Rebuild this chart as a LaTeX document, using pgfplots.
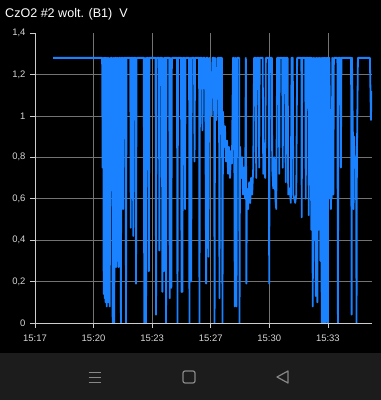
\documentclass[border=0pt]{standalone}
\usepackage{pgfplots}
\pgfplotsset{compat=1.18}
\usepackage{fontspec}
\setmainfont{Liberation Sans}
\definecolor{lineblue}{RGB}{26,130,255}
\definecolor{gridgray}{RGB}{115,115,115}
\definecolor{axisgray}{RGB}{205,205,205}
\definecolor{labelgray}{RGB}{215,215,215}
\definecolor{navbar}{RGB}{28,28,28}
\definecolor{icongray}{RGB}{135,135,135}
\begin{document}
\begin{tikzpicture}
\fill[black] (0bp,0bp) rectangle (381bp,400bp);
\fill[navbar] (0bp,0bp) rectangle (381bp,47bp);
\node[anchor=base west, text=white, font=\fontsize{12.6}{14}\selectfont, inner sep=0pt] at (5bp,382bp) {CzO2 \#2 wolt. (B1)\ \ V};
% navigation icons
\begin{scope}[draw=icongray, line width=1.2bp]
\draw (88.5bp,27.3bp) -- (101bp,27.3bp);
\draw (88.5bp,22.7bp) -- (101bp,22.7bp);
\draw (88.5bp,17.3bp) -- (101bp,17.3bp);
\draw[rounded corners=2bp] (183bp,17bp) rectangle (195bp,29bp);
\draw[line join=round] (288bp,29bp) -- (277bp,23bp) -- (288bp,17bp) -- cycle;
\end{scope}
\begin{axis}[
  at={(35bp,77bp)}, anchor=south west,
  scale only axis, width=337bp, height=290bp,
  xmin=0, xmax=19.18, ymin=0, ymax=1.4,
  axis x line*=bottom, axis y line*=left,
  axis line style={axisgray, line width=0.8bp},
  xtick={0,3.33333,6.66667,10,13.33333,16.66667},
  xticklabels={15:17,15:20,15:23,15:27,15:30,15:33},
  ytick={0,0.2,0.4,0.6,0.8,1,1.2},
  extra y ticks={1.4},
  extra y tick style={grid=none},
  /pgf/number format/use comma,
  /pgf/number format/assume math mode=true,
  grid=major,
  major grid style={gridgray, line width=0.6bp},
  tick align=outside,
  major tick length=5bp,
  tick style={axisgray, line width=0.6bp},
  ticklabel style={font=\fontsize{9.5}{11}\selectfont, text=labelgray},
  xticklabel style={yshift=-3.5bp},
  yticklabel style={xshift=-1bp},
]
\addplot[lineblue, line width=1.8bp, line join=round, mark=none] coordinates {
(1.03,1.28)(3.82,1.28)(3.85,0.75)(3.88,1.28)(3.91,0.14)(3.94,1.28)(3.97,0.12)(4.00,1.28)(4.02,0.10)(4.05,1.28)(4.08,0.08)(4.11,1.28)(4.17,0.10)(4.20,1.28)(4.25,0.08)(4.31,1.28)(4.39,1.28)(4.42,0.00)(4.48,1.28)(4.51,0.00)(4.55,1.28)(4.59,1.28)(4.62,0.27)(4.65,1.28)(4.68,0.30)(4.71,1.28)(4.76,0.27)(4.79,1.28)
(4.86,1.28)(4.89,0.00)(4.92,1.28)(4.99,1.28)(5.02,0.55)(5.05,1.28)(5.15,1.28)(5.18,0.00)(5.21,1.28)(5.42,1.28)(5.45,0.46)(5.48,1.28)(5.57,1.28)(5.59,0.42)(5.62,1.28)(5.72,1.28)(5.75,0.19)(5.78,1.28)(6.19,1.28)(6.22,0.00)(6.27,1.28)(6.32,0.00)(6.35,1.28)(6.45,1.28)(6.48,0.25)(6.51,1.28)(6.86,1.28)(6.89,0.04)(6.92,1.28)(7.05,1.28)(7.08,0.35)(7.11,1.28)(7.22,1.28)(7.25,0.15)(7.28,1.28)(7.34,0.25)(7.36,1.28)(7.43,1.28)(7.46,0.00)(7.48,1.28)(7.64,1.28)(7.67,0.12)(7.69,1.28)(7.76,0.17)(7.79,1.28)
(8.08,1.28)(8.11,0.00)(8.14,1.28)(8.31,1.28)(8.34,0.15)(8.36,1.28)(8.39,0.15)(8.42,1.28)(8.51,1.28)(8.54,0.55)(8.57,1.28)(8.77,1.28)(8.79,0.00)(8.84,1.28)(8.89,0.20)(8.92,1.28)(9.05,1.28)(9.08,0.78)(9.11,1.28)(9.34,1.28)(9.36,0.00)(9.39,1.28)(9.50,1.28)(9.53,0.93)(9.57,1.28)(9.67,1.28)(9.70,0.95)(9.74,0.19)(9.76,1.28)(9.84,1.28)(9.87,0.32)(9.90,1.00)(9.94,1.28)(10.05,1.00)(10.10,1.28)(10.19,1.28)(10.22,0.00)(10.25,1.28)(10.33,0.98)(10.39,1.28)(10.47,1.28)(10.50,0.12)(10.53,1.28)(10.64,1.28)(10.67,0.00)(10.70,1.02)(10.76,0.85)(10.81,0.95)(10.87,0.78)(10.93,0.88)(10.99,0.72)(11.04,0.85)(11.10,0.70)(11.16,0.83)(11.21,0.77)(11.27,1.28)(11.33,1.28)(11.37,0.08)(11.42,1.28)(11.47,0.08)(11.50,1.28)(11.62,1.28)(11.64,0.00)(11.67,0.85)
(11.73,0.70)(11.79,0.80)(11.84,0.62)(11.90,0.75)(11.96,0.60)(12.00,1.28)(12.03,0.19)(12.06,0.65)(12.13,0.55)(12.19,0.68)(12.25,0.58)(12.30,0.70)(12.36,0.62)(12.42,0.75)(12.47,1.28)(12.56,1.28)(12.59,0.70)(12.62,1.28)(12.73,1.28)(12.76,0.75)(12.79,1.28)(12.96,1.28)(12.99,0.72)(13.04,0.78)(13.10,0.70)(13.14,1.28)(13.30,1.28)(13.33,0.19)(13.36,1.28)(13.48,1.28)(13.50,0.75)(13.56,0.65)(13.62,0.80)(13.68,0.60)(13.73,0.55)(13.78,1.28)(13.88,1.28)(13.90,0.72)(13.93,1.28)(14.07,1.28)(14.10,0.75)(14.13,1.28)(14.24,1.28)(14.27,0.68)(14.30,1.28)(14.38,1.28)(14.41,0.62)(14.50,0.65)(14.56,0.58)(14.60,1.28)(14.67,1.28)(14.70,0.62)(14.76,0.60)(14.81,0.58)(14.87,0.62)(14.92,1.28)
(15.16,1.28)(15.18,0.51)(15.21,1.28)(15.38,1.28)(15.41,0.60)(15.44,1.28)(15.55,1.28)(15.58,0.52)(15.61,1.28)(15.70,1.28)(15.72,0.45)(15.75,1.28)(15.81,0.08)(15.84,1.28)(15.90,0.40)(15.93,1.28)(15.98,0.13)(16.01,1.28)(16.07,0.10)(16.10,1.28)(16.15,0.45)(16.18,1.28)(16.24,0.30)(16.27,1.28)(16.32,0.00)(16.35,1.28)(16.38,0.05)(16.41,1.28)(16.44,0.00)(16.47,1.28)(16.49,0.20)(16.52,1.28)(16.55,0.00)(16.58,1.28)(16.61,0.05)(16.64,1.28)(16.67,0.00)(16.69,1.28)(16.72,0.60)(16.75,1.28)(16.81,0.80)(16.84,0.55)(16.87,0.70)(16.89,0.60)(16.92,1.28)(16.98,0.62)(17.01,1.28)(17.21,1.28)(17.24,0.00)(17.27,1.28)(17.38,1.28)(17.41,0.75)(17.44,1.28)(17.99,1.28)(18.02,0.04)(18.04,1.28)(18.10,0.85)(18.13,0.55)(18.16,0.90)(18.21,0.75)(18.27,0.80)(18.30,0.00)(18.32,0.80)(18.38,1.28)(19.06,1.28)(19.12,0.98)(19.15,1.12)
};
\end{axis}
\end{tikzpicture}
\end{document}
